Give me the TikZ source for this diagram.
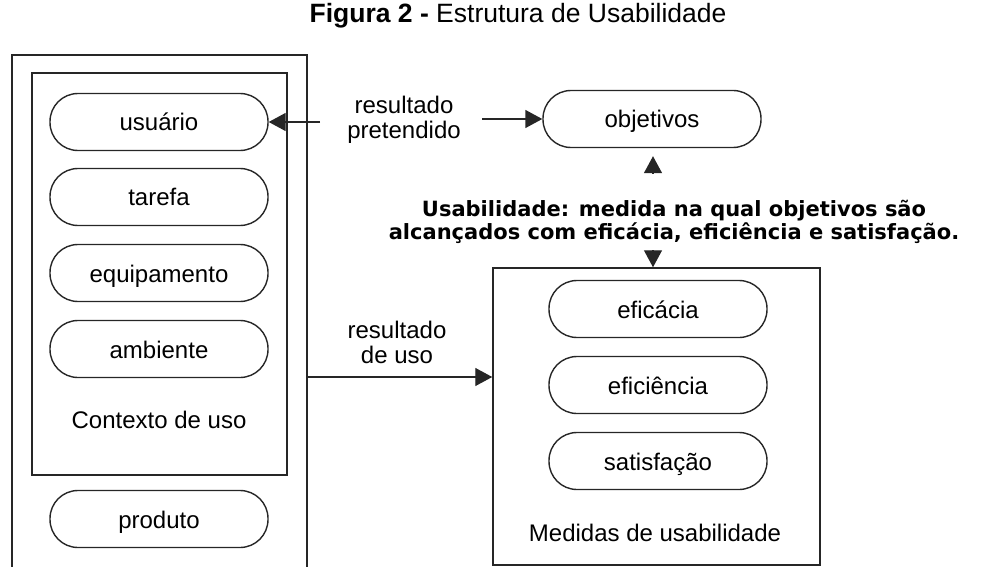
\documentclass[tikz,border=0pt]{standalone}
\usepackage{fontspec}
\setmainfont{Liberation Sans}
\newfontfamily\grasfont{DejaVu Sans}
\usetikzlibrary{arrows.meta}

\begin{document}
\begin{tikzpicture}[x=1pt,y=-1pt]
    \tikzstyle{fleche}=[-{Triangle[length=17pt,width=18pt]},line width=1.4pt,draw=black!85]
    \tikzstyle{cadre}=[draw=black!85,line width=1.5pt]
\tikzset{bulle/.style={draw=black!85,line width=1.4pt,rounded corners=28pt,
minimum width=218pt,minimum height=57pt,text height=20pt,text depth=2pt,
font=\fontsize{24}{28}\selectfont},
texte/.style={font=\fontsize{24}{28}\selectfont,align=center}}
\useasboundingbox (0,0) rectangle (994,567);

\node[font=\fontsize{26.5}{30}\selectfont] (titre) at (518,16) {\textbf{Figura 2 -} Estrutura de Usabilidade};

% produto / contexto de uso
\draw[cadre] (12,572) -- (12,55) -- (307,55) -- (307,572);
\draw[cadre] (32,73) rectangle (287,475);
\node[bulle] (usuario) at (159,122){usuário};
\node[bulle] (tarefa) at (159,197){tarefa};
\node[bulle] (equipamento) at (159,273){equipamento};
\node[bulle] (ambiente) at (159,349){ambiente};
\node[texte] (contexto) at (159,420){Contexto de uso};
\node[bulle] (produto) at (159,519){produto};

% objetivos
\node[bulle] (objetivos) at (652,119){objetivos};
\node[texte,font=\fontsize{24}{25}\selectfont] (pretendido) at (404,120){resultado\\pretendido};
\coordinate (gauche) at (320,122);
\coordinate (droite) at (482,119);
\draw[fleche] (gauche) -- (usuario.east);
\draw[fleche] (droite) -- (objetivos.west);

\node[align=center,font=\grasfont\bfseries\fontsize{21}{23}\selectfont] (usabilidade) at (674,222)
{Usabilidade: medida na qual objetivos são\\alcançados com eficácia, eficiência e satisfação.};
\coordinate (haut) at (653,174);
\draw[fleche,shorten >=8pt] (haut) -- (haut |- objetivos.south);

% medidas
\node[cadre,minimum width=327pt,minimum height=297pt] (medidas) at (656.5,416.5){};
\node[bulle] (eficacia) at (658,309){eficácia};
\node[bulle] (eficiencia) at (658,385){eficiência};
\node[bulle] (satisfacao) at (658,461){satisfação};
\node[texte] (medlabel) at (655,533){Medidas de usabilidade};
\coordinate (bas) at (653,250);
\draw[fleche] (bas) -- (bas |- medidas.north);

\node[texte,font=\fontsize{24}{25}\selectfont] (uso) at (397,342){resultado\\de uso};
\coordinate (sortie) at (307,377);
\draw[fleche] (sortie) -- (sortie -| medidas.west);

\end{tikzpicture}
\end{document}
